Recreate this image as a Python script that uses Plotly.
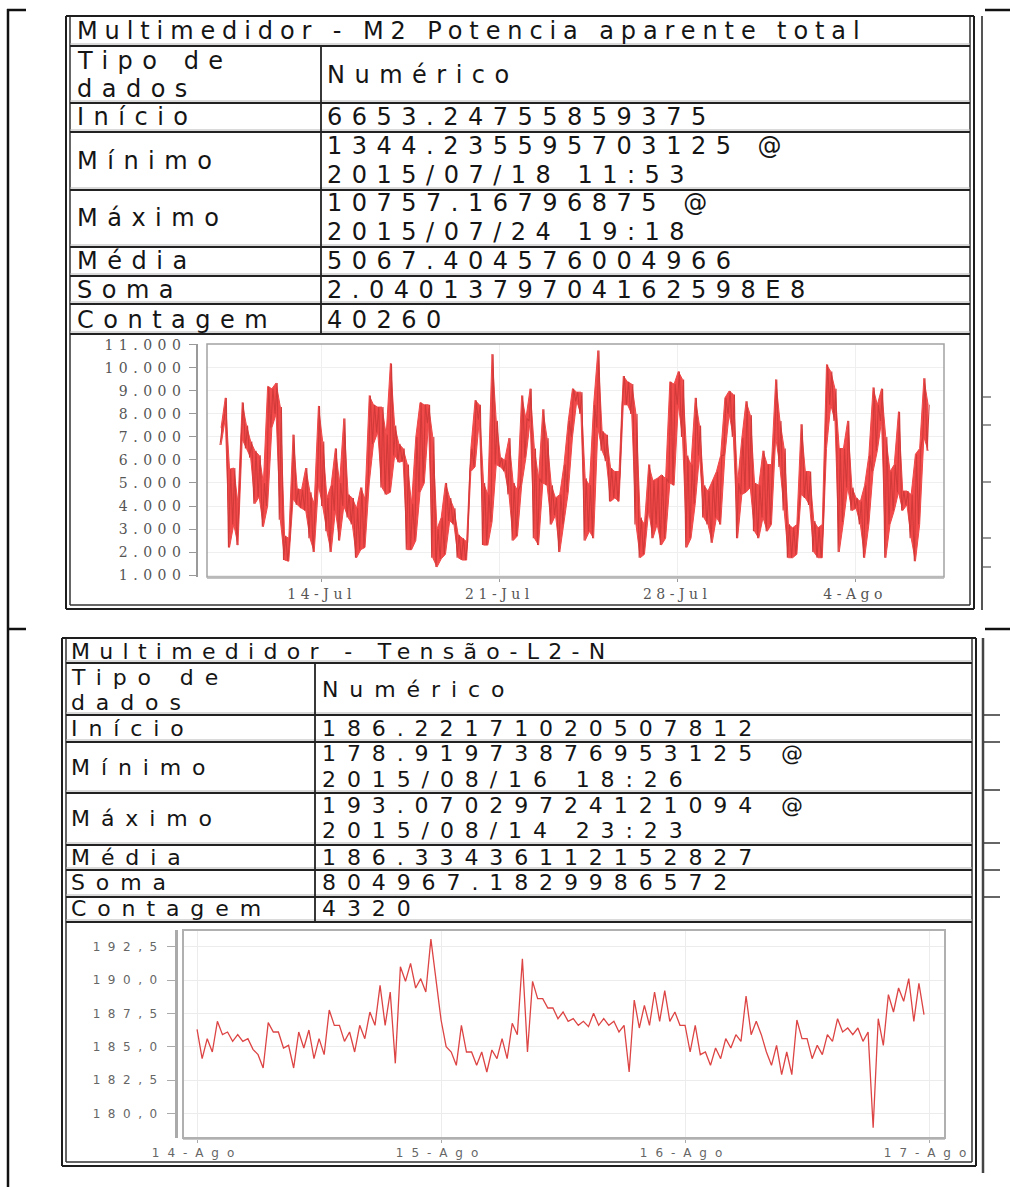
import plotly.graph_objects as go
import pandas as pd

# ---------------- data ----------------
# M2 apparent power: envelope per 4-hour column (low, high), starting 2015-07-10 00:00
potencia_lo = [6650, 7800, 2200, 3200, 2300, 6900, 6500, 6100, 4100, 4400,
               3100, 4000, 7400, 8000, 3400, 1650, 1600, 4300, 4050, 3900,
               3800, 2600, 2000, 4900, 4000, 2900, 2000, 3800, 2500, 4000,
               3500, 3200, 1750, 2100, 2200, 5000, 6700, 7200, 4800, 4500,
               4600, 6200, 5900, 5950, 2100, 2100, 2500, 4600, 5000, 7600,
               1750, 1344, 1700, 1900, 3350, 3200, 1750, 1650, 1650, 5500,
               5700, 7750, 2300, 2300, 3300, 5800, 5700, 5500, 4500, 2500,
               2700, 4900, 6100, 7700, 2600, 2300, 5000, 4900, 3200, 3600,
               2000, 3200, 4600, 7000, 8550, 8000, 2500, 2900, 2600, 7400,
               6400, 5950, 4200, 4350, 4200, 8400, 8400, 8000, 3200, 1750,
               1900, 3800, 2600, 3200, 2300, 2600, 5000, 4900, 8400, 7000,
               2200, 2600, 4100, 6200, 3500, 3200, 2400, 3500, 3200, 6200,
               8000, 7000, 2600, 4500, 4600, 4800, 2900, 2600, 3500, 2900,
               3200, 7000, 5700, 3800, 1750, 1750, 1900, 4500, 4350, 4050,
               2000, 1750, 1750, 6500, 8400, 7700, 2000, 3300, 4800, 3800,
               3900, 3200, 1750, 3200, 5500, 6400, 7700, 1750, 3200, 3800,
               4600, 3800, 4050, 2600, 1600, 3200, 7000, 6400]
potencia_hi = [7400, 8700, 5600, 5650, 4100, 8500, 7500, 6800, 6400, 6200,
               5000, 9200, 9100, 9350, 8300, 2700, 2600, 7100, 4750, 4700,
               5650, 4600, 4100, 8350, 6800, 4350, 4900, 6500, 5000, 7800,
               4500, 4350, 3900, 4800, 4300, 8800, 8400, 8300, 8300, 7100,
               10200, 7500, 6700, 6500, 5800, 4100, 7000, 8500, 8400, 8400,
               7000, 3000, 3500, 5000, 4350, 3900, 2750, 2600, 2450, 6500,
               8600, 8400, 5000, 4500, 10600, 7700, 6100, 6000, 6950, 5000,
               4700, 8800, 7800, 9100, 6500, 5200, 8200, 6950, 4900, 4350,
               4500, 5800, 7700, 9100, 8950, 8950, 5200, 4900, 8400, 10757,
               7250, 7100, 5650, 5500, 5500, 9650, 9400, 9300, 8000, 3500,
               3200, 5800, 5100, 5200, 5350, 5200, 9400, 9300, 9850, 9500,
               6200, 5800, 8700, 7500, 4900, 4650, 5100, 5500, 6200, 8700,
               9000, 8850, 5000, 6950, 8550, 7950, 5000, 4900, 6400, 5800,
               5800, 9500, 7700, 6500, 3200, 3050, 3200, 7550, 5500, 5500,
               3350, 3050, 3200, 10150, 9850, 9100, 6500, 6500, 7700, 4800,
               4350, 4200, 4900, 6200, 9150, 8400, 9100, 7000, 5500, 5800,
               8100, 4650, 4650, 4500, 6250, 6500, 9550, 8400]

# Voltage L2-N: envelope per 1-hour column (low, high), starting 2015-08-14 00:00
tensao_lo = [184.1, 184.6, 185.9, 185.4, 185.4, 184.8, 183.4, 186.1, 184.9, 183.4,
             184.9, 184.1, 184.4, 186.6, 185.4, 184.6, 185.6, 186.6, 186.6, 183.75,
             189.9, 189.4, 189.1, 190.1, 185.0, 183.6, 184.6, 183.6, 183.1, 184.1,
             184.1, 185.9, 184.6, 188.6, 187.9, 187.1, 186.9, 186.6, 186.5, 186.6,
             186.6, 186.1, 183.1, 186.4, 186.6, 186.9, 186.9, 186.6, 184.6, 184.4,
             183.6, 184.1, 184.9, 185.4, 185.9, 185.9, 183.6, 182.9, 182.9, 185.6,
             184.1, 184.4, 185.4, 186.1, 185.9, 185.4, 178.92, 185.1, 187.6, 188.4,
             186.9, 187.4]
tensao_hi = [186.3, 185.6, 186.9, 186.1, 185.9, 185.6, 184.4, 186.8, 186.1, 185.1,
             186.1, 186.25, 185.6, 187.75, 186.6, 186.1, 186.6, 187.6, 189.6, 189.1,
             191.0, 191.25, 190.1, 193.07, 187.0, 184.6, 186.6, 184.6, 184.6, 184.75,
             185.6, 186.75, 191.6, 189.9, 188.6, 187.9, 187.6, 187.1, 186.9, 187.5,
             187.1, 186.9, 186.6, 188.5, 188.1, 189.1, 189.2, 187.6, 186.6, 186.6,
             184.6, 184.9, 185.6, 185.9, 188.8, 186.9, 184.6, 185.1, 184.6, 187.0,
             185.6, 185.1, 185.9, 187.1, 186.4, 186.4, 186.1, 187.1, 188.9, 189.4,
             190.1, 189.75]

potencia_yticks = [1000, 2000, 3000, 4000, 5000, 6000, 7000, 8000, 9000, 10000, 11000]
potencia_yticktext = ["1.000", "2.000", "3.000", "4.000", "5.000", "6.000",
                      "7.000", "8.000", "9.000", "10.000", "11.000"]
potencia_xticks = ["2015-07-14", "2015-07-21", "2015-07-28", "2015-08-04"]
potencia_xticktext = ["14-Jul", "21-Jul", "28-Jul", "4-Ago"]

tensao_yticks = [180.0, 182.5, 185.0, 187.5, 190.0, 192.5]
tensao_yticktext = ["180,0", "182,5", "185,0", "187,5", "190,0", "192,5"]
tensao_xticks = ["2015-08-14", "2015-08-15", "2015-08-16", "2015-08-17"]
tensao_xticktext = ["14-Ago", "15-Ago", "16-Ago", "17-Ago"]

tabela_potencia = [
    ("Início", ["6653.24755859375"]),
    ("Mínimo", ["1344.235595703125 @", "2015/07/18 11:53"]),
    ("Máximo", ["10757.16796875 @", "2015/07/24 19:18"]),
    ("Média", ["5067.404576004966"]),
    ("Soma", ["2.0401379704162598E8"]),
    ("Contagem", ["40260"]),
]
tabela_tensao = [
    ("Início", ["186.22171020507812"]),
    ("Mínimo", ["178.91973876953125 @", "2015/08/16 18:26"]),
    ("Máximo", ["193.07029724121094 @", "2015/08/14 23:23"]),
    ("Média", ["186.33436112152827"]),
    ("Soma", ["804967.1829986572"]),
    ("Contagem", ["4320"]),
]

# ---------------- helpers ----------------
W, H = 1010, 1187


def px(x):
    return x / W


def py(y):
    return 1 - y / H


def spaced(text, s):
    return f'<span style="letter-spacing:{s}px">{text}</span>'


def column_times(start, step_h, n, offset_h=0.0):
    t0 = pd.Timestamp(start)
    return [t0 + pd.Timedelta(hours=step_h * i + offset_h) for i in range(n)]


def envelope(start, step_h, lo, hi, hi_first):
    xs, ys = [], []
    for t, a, b in zip(column_times(start, step_h, len(lo)), lo, hi):
        first, second = (b, a) if hi_first else (a, b)
        xs += [t, t + pd.Timedelta(hours=step_h / 2)]
        ys += [first, second]
    return xs, ys


fig = go.Figure()

# apparent power: filled band between the column lows and highs, with the raw trace on top
tc = column_times("2015-07-10 00:00", 4, len(potencia_lo), 1.0)
fig.add_trace(go.Scatter(x=tc, y=potencia_lo, mode="lines", xaxis="x", yaxis="y",
                         line=dict(color="#f04848", width=1),
                         hoverinfo="skip", showlegend=False))
fig.add_trace(go.Scatter(x=tc, y=potencia_hi, mode="lines", xaxis="x", yaxis="y",
                         line=dict(color="#f04848", width=1),
                         fill="tonexty", fillcolor="#f24a4a",
                         hoverinfo="skip", showlegend=False))
x1, y1 = envelope("2015-07-10 00:00", 4, potencia_lo, potencia_hi, False)
fig.add_trace(go.Scatter(x=x1, y=y1, mode="lines", xaxis="x", yaxis="y",
                         line=dict(color="#d23a3a", width=1.1),
                         hoverinfo="skip", showlegend=False))

x2, y2 = envelope("2015-08-14 00:00", 1, tensao_lo, tensao_hi, True)
fig.add_trace(go.Scatter(x=x2, y=y2, mode="lines", xaxis="x2", yaxis="y2",
                         line=dict(color="#dd4444", width=1.3),
                         hoverinfo="skip", showlegend=False))

shapes = []


def hline(x0, x1_, y, color="#1e1e1e", width=2):
    shapes.append(dict(type="line", xref="paper", yref="paper",
                       x0=px(x0), x1=px(x1_), y0=py(y), y1=py(y),
                       line=dict(color=color, width=width)))


def vline(x, y0, y1_, color="#1e1e1e", width=2):
    shapes.append(dict(type="line", xref="paper", yref="paper",
                       x0=px(x), x1=px(x), y0=py(y0), y1=py(y1_),
                       line=dict(color=color, width=width)))


def rect(x0, y0, x1_, y1_, color, width, fill=None):
    shapes.append(dict(type="rect", xref="paper", yref="paper",
                       x0=px(x0), x1=px(x1_), y0=py(y1_), y1=py(y0),
                       line=dict(color=color, width=width),
                       fillcolor=fill if fill else "rgba(0,0,0,0)"))


# chart frames
rect(207, 344, 944, 577, "#a3a3a3", 1.5)
rect(183, 930, 945, 1138, "#b0b0b0", 2)
# clip the last date label at the cell edge
rect(969, 1141, 1008, 1163, "white", 0, fill="white")

# outer document table
vline(8, 9, 1187, "#111", 2.5)
hline(7, 26, 10, "#111", 2.5)
hline(985, 1010, 10, "#111", 2.5)
hline(7, 26, 629, "#111", 2.5)
hline(985, 1010, 629, "#111", 2.5)

# first statistics table
vline(66, 16, 609)
vline(70, 16, 605, "#333", 1.5)
vline(970, 16, 605, "#333", 1.5)
vline(974, 16, 609)
vline(982, 16, 610, "#555", 2)
hline(66, 974, 16)
hline(70, 970, 605, "#333", 1.5)
hline(66, 974, 609)
for y in [46, 103, 132, 190, 247, 276, 304, 334]:
    hline(70, 970, y - 2, "#b5b5b5", 1)
    hline(70, 970, y, "#222", 1.8)
vline(321, 46, 334, "#222", 1.8)
for y in [397, 425, 482, 538, 567]:
    hline(983, 991, y, "#777", 1.5)

# second statistics table
vline(62, 638, 1166)
vline(66, 638, 1162, "#333", 1.5)
vline(972, 638, 1162, "#333", 1.5)
vline(976, 638, 1166)
vline(983, 638, 1173, "#444", 2.5)
hline(62, 976, 638)
hline(66, 972, 1162, "#333", 1.5)
hline(62, 976, 1166)
for y in [663, 715, 742, 793, 845, 870, 897, 922]:
    hline(66, 972, y - 2, "#b5b5b5", 1)
    hline(66, 972, y, "#222", 1.8)
vline(315, 663, 922, "#222", 1.8)
for y in [715, 742, 790, 843, 870, 897]:
    hline(984, 1000, y, "#333", 1.5)

annotations = []


def txt(x, y, s, size, spacing):
    annotations.append(dict(x=px(x), y=py(y), xref="paper", yref="paper",
                            xanchor="left", yanchor="middle", showarrow=False,
                            text=spaced(s, spacing),
                            font=dict(family="DejaVu Sans", size=size, color="#151515")))


def table(title, rows, lx, vx, ys, size, sp, sp_title):
    txt(lx, ys["title"], title, size, sp_title)
    txt(lx, ys["tipo"][0], "Tipo de", size, sp)
    txt(lx, ys["tipo"][1], "dados", size, sp)
    txt(vx, ys["tipo"][2], "Numérico", size, sp)
    for (label, values), (ly, vys) in zip(rows, ys["rows"]):
        txt(lx, ly, label, size, sp)
        for v, vy in zip(values, vys):
            txt(vx, vy, v, size, sp)


table("Multimedidor - M2 Potencia aparente total", tabela_potencia, 75, 325,
      {"title": 31, "tipo": (61, 89, 75),
       "rows": [(117, [117]), (161, [146, 175]), (218, [203, 232]),
                (261, [261]), (290, [290]), (320, [320])]},
      24, 9.5, 6.9)
table("Multimedidor - Tensão-L2-N", tabela_tensao, 69, 320,
      {"title": 651, "tipo": (677, 702, 689),
       "rows": [(728, [728]), (767, [753, 779]), (818, [805, 830]),
                (857, [857]), (882, [882]), (908, [908])]},
      22, 10.9, 9.3)

serif_tick = dict(family="DejaVu Serif", size=14, color="#555")
sans_tick = dict(family="DejaVu Sans", size=12, color="#666")

fig.update_layout(
    width=W, height=H,
    margin=dict(l=0, r=0, t=0, b=0, pad=0, autoexpand=False),
    paper_bgcolor="white", plot_bgcolor="white",
    separators=",.",
    showlegend=False,
    shapes=shapes, annotations=annotations,
    xaxis=dict(domain=[px(207), px(944)], type="date",
               range=["2015-07-09 11:43", "2015-08-07 12:00"],
               anchor="free", position=py(578), automargin=False,
               tickvals=potencia_xticks,
               ticktext=[spaced(t, 4.5) for t in potencia_xticktext],
               ticks="outside", ticklen=3, tickcolor="#999",
               showline=True, linecolor="#c4c4c4", linewidth=1,
               showgrid=True, gridcolor="#efefef", zeroline=False,
               tickfont=serif_tick, ticklabelstandoff=0),
    yaxis=dict(domain=[py(577), py(344)], range=[913, 11043],
               anchor="free", position=px(197), automargin=False,
               tickvals=potencia_yticks,
               ticktext=[spaced(t, 5.5) for t in potencia_yticktext],
               ticks="outside", ticklen=7, tickcolor="#999",
               showline=True, linecolor="#9a9a9a", linewidth=1.5,
               showgrid=True, gridcolor="#efefef", zeroline=False,
               tickfont=serif_tick, ticklabelstandoff=0),
    xaxis2=dict(domain=[px(183), px(945)], type="date",
                range=["2015-08-13 22:37", "2015-08-17 01:34"],
                anchor="free", position=py(1139), automargin=False,
                tickvals=tensao_xticks,
                ticktext=[spaced(t, 8) for t in tensao_xticktext],
                ticks="outside", ticklen=3, tickcolor="#aaa",
                showline=True, linecolor="#c8c8c8", linewidth=1,
                showgrid=True, gridcolor="#ececec", zeroline=False,
                tickfont=sans_tick, ticklabelstandoff=0),
    yaxis2=dict(domain=[py(1138), py(930)], range=[178.15, 193.75],
                anchor="free", position=px(176), automargin=False,
                tickvals=tensao_yticks,
                ticktext=[spaced(t, 7.5) for t in tensao_yticktext],
                ticks="outside", ticklen=8, tickcolor="#aaa",
                showline=True, linecolor="#aaaaaa", linewidth=3,
                showgrid=True, gridcolor="#ececec", zeroline=False,
                tickfont=sans_tick, ticklabelstandoff=0),
)

fig.write_html("out.html")
